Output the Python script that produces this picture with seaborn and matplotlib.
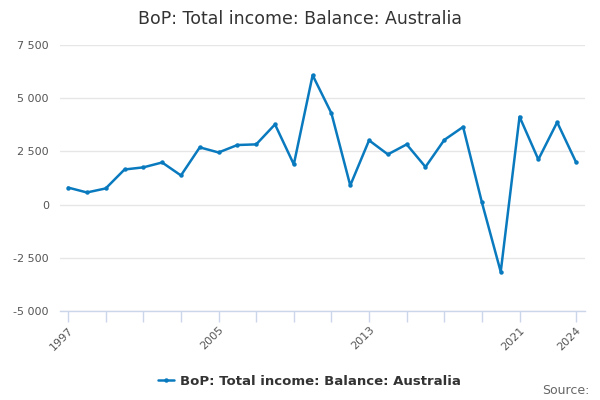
import matplotlib
matplotlib.use("Agg")
import matplotlib.pyplot as plt
import seaborn as sns
import pandas as pd
import numpy as np

years = list(range(1997, 2025))
balance = [
    800, 570, 760, 1650, 1750, 1980, 1370, 2690, 2450, 2800,
    2830, 3770, 1890, 6080, 4290, 900, 3020, 2360, 2830, 1770,
    3040, 3650, 100, -3160, 4130, 2120, 3870, 2000,
]
series_name = "BoP: Total income: Balance: Australia"
tick_years = list(range(1997, 2022, 2)) + [2024]
label_years = [1997, 2005, 2013, 2021, 2024]
y_ticks = [-5000, -2500, 0, 2500, 5000, 7500]

df = pd.DataFrame({"Year": years, "Value": balance})

sns.set_style("white")
plt.rcParams["font.family"] = ["DejaVu Sans"]

fig = plt.figure(figsize=(6, 4), dpi=100)
ax = fig.add_axes([0.1, 0.2225, 0.875, 0.665])

line_color = "#0a7abf"
sns.lineplot(data=df, x="Year", y="Value", ax=ax, color=line_color,
             linewidth=1.8, marker="o", markersize=3.2,
             markeredgewidth=0, label=series_name)

ax.set_xlim(1996.57, 2024.48)
ax.set_ylim(-5000, 7500)
ax.set_yticks(y_ticks)
ax.set_yticklabels([f"{v:,}".replace(",", " ") for v in y_ticks],
                   fontsize=8, color="#555555")
ax.set_xticks(tick_years)
ax.set_xticklabels([str(y) if y in label_years else "" for y in tick_years],
                   rotation=45, ha="right", rotation_mode="anchor",
                   fontsize=8, color="#555555")
ax.tick_params(axis="x", bottom=True, direction="out", length=8, width=1,
               color="#ccd6eb", pad=2)
ax.tick_params(axis="y", left=False, length=0, pad=8)

ax.grid(axis="y", color="#e6e6e6", linewidth=1)
ax.set_axisbelow(True)
for s in ["top", "right", "left"]:
    ax.spines[s].set_visible(False)
ax.spines["bottom"].set_color("#ccd6eb")
ax.spines["bottom"].set_linewidth(1)
ax.set_xlabel("")
ax.set_ylabel("")

fig.suptitle(series_name, x=0.5, y=0.975, fontsize=12.5, color="#333333")

ax.legend(loc="upper center", bbox_to_anchor=(0.475, -0.195), frameon=False,
          prop={"weight": "bold", "size": 9.5}, handlelength=1.2,
          handletextpad=0.5, labelcolor="#333333")

fig.text(0.982, 0.008, "Source:", ha="right", va="bottom", fontsize=9,
         color="#666666")

fig.savefig("out.png", dpi=100)
